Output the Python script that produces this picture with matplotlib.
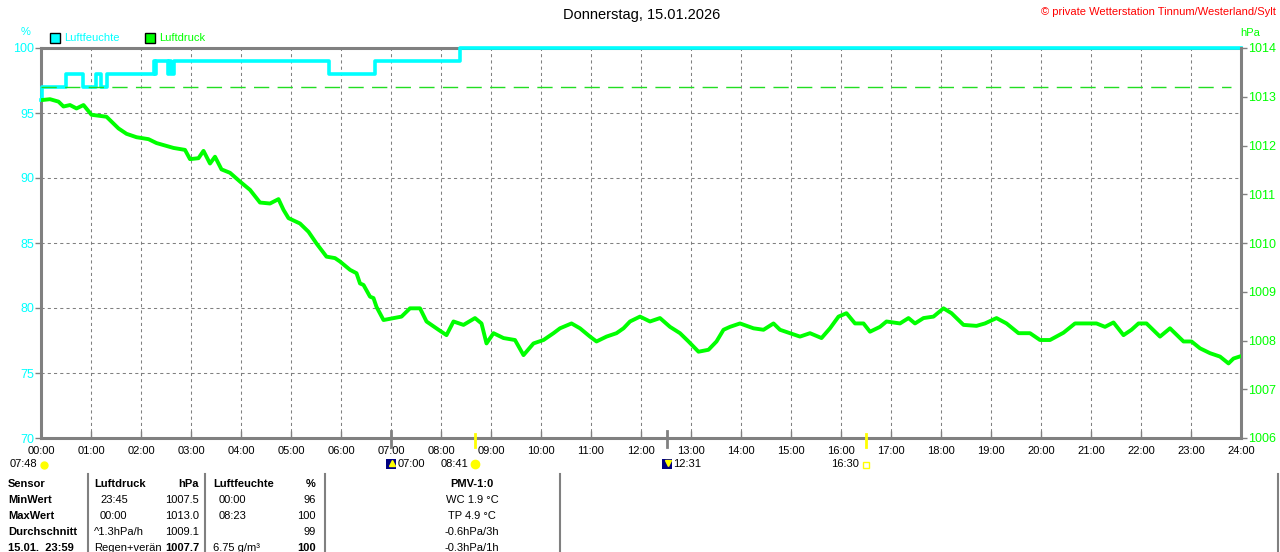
import matplotlib.pyplot as plt
import numpy as np
from matplotlib.lines import Line2D
from matplotlib.patches import Rectangle
from matplotlib.transforms import blended_transform_factory

plt.rcParams['font.family'] = ['Liberation Sans', 'DejaVu Sans']

CYAN = '#00ffff'
GREEN = '#00ff00'
GRAY = '#808080'
W, H = 1280, 552

# Luftdruck in hPa, Stunde des Tages
p_time = [0.0, 0.18, 0.35, 0.45, 0.58, 0.71, 0.85, 1.01, 1.31, 1.55, 1.71, 1.91,
          2.15, 2.31, 2.65, 2.88, 2.98, 3.15, 3.25, 3.38, 3.48, 3.61, 3.78, 3.98,
          4.18, 4.38, 4.58, 4.75, 4.85, 4.95, 5.18, 5.35, 5.51, 5.71, 5.88, 5.98,
          6.18, 6.31, 6.38, 6.45, 6.58, 6.65, 6.71, 6.85, 7.05, 7.21, 7.38, 7.58,
          7.71, 7.95, 8.11, 8.25, 8.45, 8.68, 8.81, 8.91, 9.05, 9.25, 9.48, 9.65,
          9.85, 10.05, 10.25, 10.38, 10.61, 10.78, 10.98, 11.11, 11.31, 11.51,
          11.65, 11.78, 11.98, 12.18, 12.38, 12.58, 12.78, 12.95, 13.15, 13.35,
          13.51, 13.65, 13.78, 13.98, 14.25, 14.45, 14.65, 14.78, 14.98, 15.18,
          15.38, 15.61, 15.78, 15.95, 16.11, 16.28, 16.45, 16.58, 16.78, 16.91,
          17.18, 17.35, 17.48, 17.65, 17.85, 18.05, 18.21, 18.45, 18.71, 18.88,
          19.11, 19.31, 19.55, 19.78, 19.98, 20.18, 20.45, 20.68, 20.91, 21.11,
          21.28, 21.45, 21.65, 21.81, 21.95, 22.11, 22.38, 22.58, 22.85, 23.01,
          23.18, 23.38, 23.58, 23.75, 23.85, 23.97]
p_hpa = [1012.93, 1012.95, 1012.90, 1012.80, 1012.83, 1012.76, 1012.83, 1012.63,
         1012.59, 1012.35, 1012.24, 1012.17, 1012.13, 1012.05, 1011.95, 1011.91,
         1011.72, 1011.74, 1011.89, 1011.63, 1011.77, 1011.51, 1011.44, 1011.26,
         1011.09, 1010.83, 1010.81, 1010.90, 1010.68, 1010.51, 1010.40, 1010.23,
         1009.99, 1009.72, 1009.69, 1009.62, 1009.45, 1009.38, 1009.17, 1009.14,
         1008.90, 1008.87, 1008.69, 1008.42, 1008.46, 1008.49, 1008.66, 1008.66,
         1008.39, 1008.22, 1008.11, 1008.39, 1008.32, 1008.46, 1008.35, 1007.94,
         1008.15, 1008.05, 1008.01, 1007.70, 1007.94, 1008.01, 1008.15, 1008.25,
         1008.35, 1008.25, 1008.08, 1007.98, 1008.08, 1008.15, 1008.25, 1008.39,
         1008.49, 1008.39, 1008.46, 1008.28, 1008.15, 1007.98, 1007.77, 1007.81,
         1007.98, 1008.22, 1008.28, 1008.35, 1008.25, 1008.22, 1008.35, 1008.22,
         1008.15, 1008.08, 1008.15, 1008.05, 1008.25, 1008.49, 1008.56, 1008.35,
         1008.35, 1008.18, 1008.28, 1008.39, 1008.35, 1008.46, 1008.35, 1008.46,
         1008.49, 1008.66, 1008.56, 1008.32, 1008.30, 1008.35, 1008.46, 1008.35,
         1008.15, 1008.15, 1008.01, 1008.01, 1008.16, 1008.35, 1008.35, 1008.35,
         1008.28, 1008.37, 1008.11, 1008.22, 1008.35, 1008.35, 1008.08, 1008.25,
         1007.98, 1007.98, 1007.84, 1007.74, 1007.67, 1007.53, 1007.63, 1007.67]

# Luftfeuchte in %, Stufen (Zeitpunkt der Aenderung)
h_time = [0.0, 0.02, 0.50, 0.83, 1.09, 1.19, 1.31, 2.25, 2.27, 2.30, 2.53, 2.56,
          2.60, 2.66, 5.75, 6.67, 8.38, 24.0]
h_val = [96, 97, 98, 97, 98, 97, 98, 99, 98, 99, 98, 99, 98, 99, 98, 99, 100, 100]

p_ref = 1013.2

hours = list(range(25))
hour_labels = ['%02d:00' % h for h in hours]
hum_ticks = [70, 75, 80, 85, 90, 95, 100]
hpa_ticks = list(range(1006, 1015))

sun_times = [8.683, 16.5]      # Sonnenaufgang / -untergang
moon_times = [7.0, 12.517]     # Mondaufgang / -untergang

table = [
    ['Sensor', 'Luftdruck', 'hPa', 'Luftfeuchte', '%', 'PMV-1:0'],
    ['MinWert', '23:45', '1007.5', '00:00', '96', 'WC 1.9 °C'],
    ['MaxWert', '00:00', '1013.0', '08:23', '100', 'TP 4.9 °C'],
    ['Durchschnitt', '^1.3hPa/h', '1009.1', '', '99', '-0.6hPa/3h'],
    ['15.01.  23:59', 'Regen+verän', '1007.7', '6.75 g/m³', '100', '-0.3hPa/1h'],
]


def fx(x):
    return x / W


def fy(y):
    return 1 - y / H


fig = plt.figure(figsize=(12.8, 5.52), dpi=100)
ax = fig.add_axes([fx(41), fy(438), 1200 / W, 390 / H])
ax2 = ax.twinx()

ax.set_xlim(0, 24)
ax.set_ylim(70, 100)
ax2.set_ylim(1006, 1014)

ax.grid(True, color=GRAY, linestyle=(0, (3, 3)), linewidth=0.75)
ax.set_xticks(hours)
ax.set_xticklabels(hour_labels)
ax.set_yticks(hum_ticks)
ax2.set_yticks(hpa_ticks)

ax.tick_params(axis='x', direction='in', length=5, color=GRAY, width=1,
               labelsize=8, pad=6)
ax.tick_params(axis='y', direction='out', length=4, color=GRAY, width=1,
               labelsize=9, labelcolor=CYAN, pad=1)
ax2.tick_params(axis='y', direction='out', length=4, color=GRAY, width=1,
                labelsize=9, labelcolor=GREEN, pad=1)

for s in ['left', 'bottom', 'top']:
    ax.spines[s].set_color(GRAY)
    ax.spines[s].set_linewidth(2.2)
ax.spines['right'].set_visible(False)
for s in ['left', 'bottom', 'top']:
    ax2.spines[s].set_visible(False)
ax2.spines['right'].set_color(GRAY)
ax2.spines['right'].set_linewidth(2.2)

ax.step(h_time, h_val, where='post', color=CYAN, lw=2.6, zorder=5, clip_on=False)
ax2.axhline(p_ref, xmin=0, xmax=0.9917, color='#22dd22', lw=1.0,
            linestyle=(0, (11, 6)), zorder=1)
ax2.plot(p_time, p_hpa, color=GREEN, lw=2.8, zorder=4)

# Astro-Markierungen an der Zeitachse
trans = blended_transform_factory(ax.transData, ax.transAxes)
for t in moon_times:
    ax.plot([t, t], [-0.022, 0.017], color=GRAY, lw=2, transform=trans, clip_on=False)
for t in sun_times:
    ax.plot([t, t], [-0.022, 0.01], color='#ffff00', lw=2, transform=trans,
            clip_on=False, zorder=6)

fs = 8
fig.text(fx(642), fy(15), 'Donnerstag, 15.01.2026', ha='center', va='center', fontsize=10.5)
fig.text(fx(1276), fy(12), '© private Wetterstation Tinnum/Westerland/Sylt', ha='right',
         va='center', fontsize=fs, color='red')
fig.text(fx(26), fy(32), '%', ha='center', va='center', fontsize=fs, color=CYAN)
fig.text(fx(1250), fy(33), 'hPa', ha='center', va='center', fontsize=fs, color=GREEN)

# Legende
for x0, col, label in [(50, CYAN, 'Luftfeuchte'), (145, GREEN, 'Luftdruck')]:
    fig.add_artist(Rectangle((fx(x0), fy(43)), 10 / W, 10 / H, transform=fig.transFigure,
                             facecolor=col, edgecolor='black', lw=1))
    fig.text(fx(x0 + 14), fy(38), label, ha='left', va='center', fontsize=fs, color=col)

# Zeile unter der Achse
row_y = fy(464)
fig.text(fx(10), row_y, '07:48', ha='left', va='center', fontsize=fs)
fig.text(fx(398), row_y, '07:00', ha='left', va='center', fontsize=fs)
fig.text(fx(468), row_y, '08:41', ha='right', va='center', fontsize=fs)
fig.text(fx(673), row_y, '12:31', ha='left', va='center', fontsize=fs)
fig.text(fx(859), row_y, '16:30', ha='right', va='center', fontsize=fs)
fig.add_artist(Line2D([fx(44)], [fy(465)], marker='o', ms=5, color='#ffff00',
                      transform=fig.transFigure))
for xm in [391, 667]:
    fig.add_artist(Rectangle((fx(xm - 5), fy(469)), 10 / W, 10 / H, transform=fig.transFigure,
                             facecolor='#000080', edgecolor='none'))
    fig.add_artist(Line2D([fx(xm + 1)], [fy(463)], marker='v' if xm > 500 else '^', ms=4,
                          color='#ffff00', transform=fig.transFigure))
fig.add_artist(Line2D([fx(475)], [fy(464)], marker='o', ms=6, color='#ffff00',
                      transform=fig.transFigure))
fig.add_artist(Line2D([fx(866)], [fy(465)], marker='s', ms=4, mfc='none', mec='#ffff00',
                      transform=fig.transFigure))

# Tabelle
for xl in [88, 205, 325, 560, 1278]:
    fig.add_artist(Line2D([fx(xl), fx(xl)], [fy(474), 0], color=GRAY, lw=1.5,
                          transform=fig.transFigure))

col_x = [(8, 'left'), (94, 'left'), (199, 'right'), (213, 'left'), (316, 'right'), (472, 'center')]
for r, row in enumerate(table):
    y = fy(484 + 16 * r)
    for c, txt in enumerate(row):
        x, ha = col_x[c]
        if r > 0 and c in (1, 3) and ':' in txt and len(txt) == 5:
            x += 6
        bold = r == 0 or c == 0 or (r == 4 and c in (2, 4))
        fig.text(fx(x), y, txt, ha=ha, va='center', fontsize=fs,
                 fontweight='bold' if bold else 'normal')

fig.savefig('out.png', dpi=100)
